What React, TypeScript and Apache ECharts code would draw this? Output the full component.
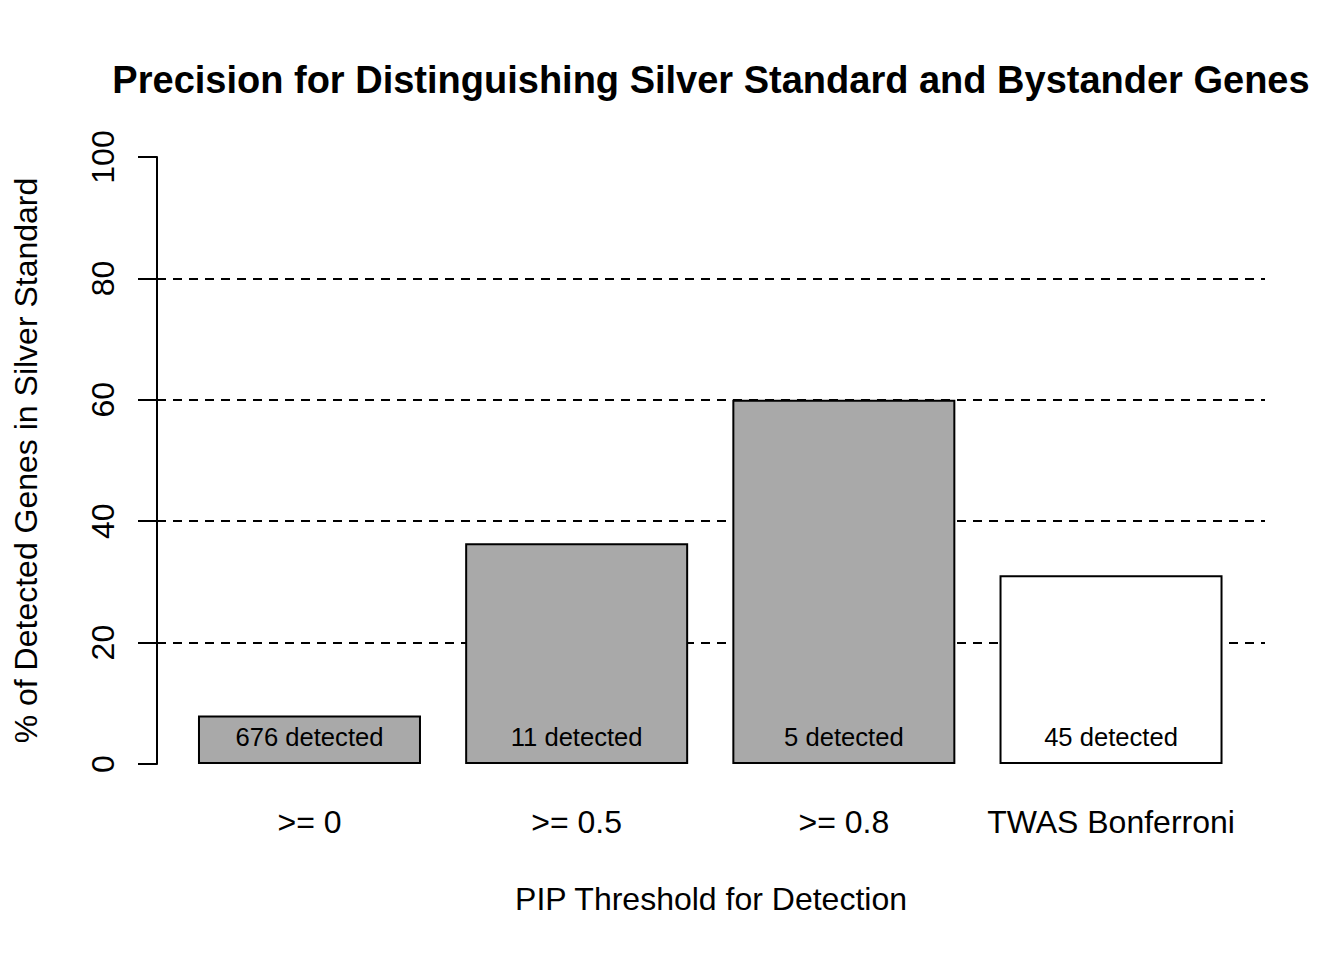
import React, { useEffect, useRef } from "react";
import * as echarts from "echarts";

const categories = [">= 0", ">= 0.5", ">= 0.8", "TWAS Bonferroni"];
const precisionValues = [7.99, 36.36, 60.0, 31.11];
const detectedCounts = [676, 11, 5, 45];
const barColors = ["#A9A9A9", "#A9A9A9", "#A9A9A9", "#FFFFFF"];
const gridValues = [20, 40, 60, 80];
const yTicks = { min: 0, max: 100, interval: 20 };

const FONT = "'Liberation Sans', Arial, Helvetica, sans-serif";

export default function App() {
  const ref = useRef<HTMLDivElement>(null);

  useEffect(() => {
    if (!ref.current) return;
    const chart = echarts.init(ref.current, null, { renderer: "svg" });
    const option: any = {
      animation: false,
      backgroundColor: "#FFFFFF",
      textStyle: { fontFamily: FONT, color: "#000" },
      title: {
        text: "Precision for Distinguishing Silver Standard and Bystander Genes",
        left: 706,
        top: 56,
        textAlign: "center",
        textStyle: { fontFamily: FONT, fontSize: 38, fontWeight: "bold", color: "#000" },
      },
      grid: { left: 157, right: 79, top: 157, bottom: 196, containLabel: false },
      xAxis: {
        type: "value",
        min: -0.5707,
        max: 3.5763,
        axisLine: { show: false, onZero: false },
        axisTick: { show: false },
        splitLine: { show: false },
        axisLabel: {
          customValues: categories.map((_, i) => i),
          formatter: (v: number) => categories[Math.round(v)] ?? "",
          fontFamily: FONT,
          fontSize: 32,
          color: "#000",
          margin: 42,
        },
        name: "PIP Threshold for Detection",
        nameLocation: "middle",
        nameGap: 119,
        nameTextStyle: { fontFamily: FONT, fontSize: 32, color: "#000" },
      },
      yAxis: {
        type: "value",
        min: yTicks.min,
        max: yTicks.max,
        interval: yTicks.interval,
        axisLine: { show: true, onZero: false, lineStyle: { color: "#000", width: 2 } },
        axisTick: { show: true, length: 19, lineStyle: { color: "#000", width: 2 } },
        splitLine: { show: false },
        axisLabel: {
          rotate: 90,
          fontFamily: FONT,
          fontSize: 32,
          color: "#000",
          margin: 38,
        },
        name: "% of Detected Genes in Silver Standard",
        nameLocation: "middle",
        nameRotate: 90,
        nameGap: 115,
        nameTextStyle: { fontFamily: FONT, fontSize: 32, color: "#000" },
      },
      series: [
        {
          type: "line",
          z: 1,
          data: [],
          silent: true,
          markLine: {
            z: 1,
            silent: true,
            symbol: ["none", "none"],
            label: { show: false },
            lineStyle: { color: "#000", width: 1.8, type: [9, 7] },
            data: gridValues.map((v) => ({ yAxis: v })),
          },
        },
        {
          type: "bar",
          z: 3,
          barWidth: 223,
          data: precisionValues.map((v, i) => ({
            value: [i, v],
            itemStyle: { color: barColors[i], borderColor: "#000", borderWidth: 2 },
          })),
          label: {
            show: true,
            position: "insideBottom",
            distance: 14,
            fontFamily: FONT,
            fontSize: 25.6,
            color: "#000",
            formatter: (p: any) => `${detectedCounts[p.dataIndex]} detected`,
          },
        },
      ],
    };
    chart.setOption(option);
    return () => chart.dispose();
  }, []);

  return (
    <div
      ref={ref}
      style={{ position: "fixed", left: 0, top: 0, width: 1344, height: 960, background: "#fff" }}
    />
  );
}
